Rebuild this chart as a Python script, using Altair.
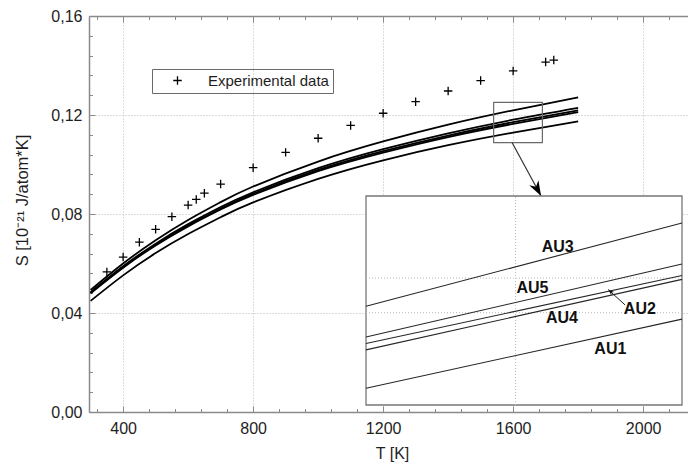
import altair as alt
import pandas as pd

# ---------------- data ----------------
T_model = [300, 400, 500, 600, 700, 800, 1000, 1200, 1400, 1600, 1800]
AU1 = [0.0449, 0.0552, 0.0642, 0.0719, 0.0787, 0.0847, 0.0942, 0.1017, 0.1078, 0.1129, 0.1174]
AU2 = [0.0482, 0.0586, 0.0676, 0.0754, 0.0822, 0.0882, 0.0978, 0.1054, 0.1117, 0.1171, 0.1219]
AU3 = [0.0493, 0.0600, 0.0694, 0.0776, 0.0848, 0.0911, 0.1012, 0.1093, 0.1161, 0.1219, 0.1271]
AU4 = [0.0480, 0.0583, 0.0673, 0.0750, 0.0818, 0.0877, 0.0973, 0.1048, 0.1111, 0.1164, 0.1212]
AU5 = [0.0484, 0.0589, 0.0680, 0.0759, 0.0828, 0.0888, 0.0985, 0.1062, 0.1126, 0.1181, 0.1229]

T_exp = [350, 400, 450, 500, 550, 600, 625, 650, 700, 800, 900, 1000,
         1100, 1200, 1300, 1400, 1500, 1600, 1700, 1725]
S_exp = [0.0566, 0.0626, 0.0686, 0.0738, 0.0789, 0.0836, 0.0859, 0.0884, 0.0921, 0.0987,
         0.1049, 0.1106, 0.1158, 0.1207, 0.1254, 0.1297, 0.1339, 0.1378, 0.1414, 0.1422]

# magnified region (zoom box) and the values read in the inset
zoom_box = {"T0": 1540, "T1": 1690, "S0": 0.1088, "S1": 0.1251}
inset_T = [1540, 1690]
inset_AU1 = [0.1101, 0.1155]
inset_AU2 = [0.1136, 0.1189]
inset_AU3 = [0.1165, 0.1230]
inset_AU4 = [0.1131, 0.1186]
inset_AU5 = [0.1141, 0.1198]
inset_grid_T = [1611]
inset_grid_S = [0.1160, 0.1187]

x_ticks = [400, 800, 1200, 1600, 2000]
x_minor = [t for t in range(320, 2161, 80) if t % 400 != 0]
y_ticks = [0.00, 0.04, 0.08, 0.12, 0.16]
y_grid = [0.04, 0.08, 0.12]
y_minor = [round(0.008 * i, 3) for i in range(1, 20) if i % 5 != 0]

# annotations (in data units)
arrow_main = {"T": 1597, "S": 0.1088, "T2": 1686, "S2": 0.0873}
arrow_au2 = {"T": 1663, "S": 0.1166, "T2": 1655, "S2": 0.1178}
label_names = ["AU3", "AU5", "AU2", "AU4", "AU1"]
label_T = [1631, 1619, 1670, 1633, 1656]
label_S = [0.1211, 0.1179, 0.1163, 0.1156, 0.1132]

# ---------------- layout / style ----------------
W, H = 599, 396
X_DOM = [295, 2138]
Y_DOM = [0.0, 0.16]
INSET_XR = [277, 593]
INSET_YR = [389, 180]
FONT = "Liberation Sans"
TXT = "#1e1e1e"
AXC = "#8a8a8a"
GRIDC = "#b8b8b8"
PLUS = "M-1,0L1,0M0,-1L0,1"
STEALTH = "M0,0L-0.7,-2L0,-1.4L0.7,-2Z"

xs = alt.Scale(domain=X_DOM, nice=False, zero=False)
ys = alt.Scale(domain=Y_DOM, nice=False, zero=False)
ixs = alt.Scale(domain=[zoom_box["T0"], zoom_box["T1"]], range=INSET_XR, nice=False, zero=False)
iys = alt.Scale(domain=[zoom_box["S0"], zoom_box["S1"]], range=INSET_YR, nice=False, zero=False)

names = ["AU1", "AU2", "AU3", "AU4", "AU5"]
curves_df = pd.DataFrame({
    "T": T_model * 5,
    "S": AU1 + AU2 + AU3 + AU4 + AU5,
    "curve": [n for n in names for _ in T_model],
})
inset_df = pd.DataFrame({
    "T": inset_T * 5,
    "S": inset_AU1 + inset_AU2 + inset_AU3 + inset_AU4 + inset_AU5,
    "curve": [n for n in names for _ in inset_T],
})
exp_df = pd.DataFrame({"T": T_exp, "S": S_exp, "series": ["Experimental data"] * len(T_exp)})
box_df = pd.DataFrame([zoom_box])
arrow_df = pd.DataFrame([arrow_main])
arrow2_df = pd.DataFrame([arrow_au2])
labels_df = pd.DataFrame({"name": label_names, "T": label_T, "S": label_S})
igv_df = pd.DataFrame({"T": inset_grid_T, "S0": zoom_box["S0"], "S1": zoom_box["S1"]})
igh_df = pd.DataFrame({"S": inset_grid_S, "T0": zoom_box["T0"], "T1": zoom_box["T1"]})

base = alt.Chart(curves_df)


def axis_layer(xaxis, yaxis):
    return base.mark_point(opacity=0).encode(
        x=alt.X("T:Q", scale=xs, axis=xaxis),
        y=alt.Y("S:Q", scale=ys, axis=yaxis),
    )


tick_common = dict(labels=False, domain=False, grid=False, title=None, tickColor=AXC, tickWidth=1)

grid_layer = axis_layer(
    alt.Axis(orient="bottom", values=x_ticks, grid=True, gridColor=GRIDC, gridDash=[1, 2],
             gridWidth=1, domain=False, ticks=False, labels=False, title=None),
    alt.Axis(orient="left", values=y_grid, grid=True, gridColor=GRIDC, gridDash=[1, 2],
             gridWidth=1, domain=False, ticks=False, labels=False, title=None),
)

label_layer = axis_layer(
    alt.Axis(orient="bottom", values=x_ticks, format="d", ticks=False, grid=False,
             domain=True, domainColor=AXC, domainWidth=1.5,
             labelFontSize=16, labelColor=TXT, labelFont=FONT, labelPadding=8,
             title="T [K]", titleFontSize=16, titleFontWeight="normal", titleColor=TXT,
             titleFont=FONT, titlePadding=9, titleX=303),
    alt.Axis(orient="left", values=y_ticks, ticks=False, grid=False,
             labelExpr="replace(format(datum.value, '.2f'), '.', ',')",
             domain=True, domainColor=AXC, domainWidth=1.5,
             labelFontSize=16, labelColor=TXT, labelFont=FONT, labelPadding=7,
             title="S [10⁻²¹  J/atom*K]", titleFontSize=16.5, titleFontWeight="normal",
             titleColor=TXT, titleFont=FONT, titleX=-67, titleY=184,
             titleAngle=270, titleAlign="center", titleBaseline="middle"),
)

major_ticks = axis_layer(
    alt.Axis(orient="bottom", values=x_ticks, tickSize={"expr": "-6"}, **tick_common),
    alt.Axis(orient="left", values=y_ticks, tickSize={"expr": "-6"}, **tick_common),
)
minor_ticks = axis_layer(
    alt.Axis(orient="bottom", values=x_minor, tickSize={"expr": "-3.5"}, **tick_common),
    alt.Axis(orient="left", values=y_minor, tickSize={"expr": "-3.5"}, **tick_common),
)
top_major = axis_layer(
    alt.Axis(orient="top", values=x_ticks, tickSize={"expr": "-6"}, labels=False, grid=False,
             title=None, tickColor=AXC, tickWidth=1, domain=True, domainColor=AXC, domainWidth=1.5),
    None,
)
top_minor = axis_layer(
    alt.Axis(orient="top", values=x_minor, tickSize={"expr": "-3.5"}, **tick_common),
    None,
)

curves = base.mark_line(color="black", strokeWidth=1.8, interpolate="natural").encode(
    x=alt.X("T:Q", scale=xs, axis=None),
    y=alt.Y("S:Q", scale=ys, axis=None),
    detail="curve:N",
)

pts = alt.Chart(exp_df).mark_point(filled=False, strokeWidth=1.3, size=72, color="black", opacity=1).encode(
    x=alt.X("T:Q", scale=xs, axis=None),
    y=alt.Y("S:Q", scale=ys, axis=None),
    shape=alt.Shape("series:N", scale=alt.Scale(domain=["Experimental data"], range=[PLUS]),
                    legend=alt.Legend(title=None, orient="none", legendX=63, legendY=53,
                                      strokeColor="#6a6a6a", padding=4, symbolOffset=14,
                                      labelOffset=23, labelFontSize=15, labelFont=FONT,
                                      labelColor=TXT, symbolSize=72, symbolStrokeWidth=1.3,
                                      symbolStrokeColor="black", symbolFillColor="transparent")),
)

small_box = alt.Chart(box_df).mark_rect(fillOpacity=0, stroke="#6a6a6a", strokeWidth=1.2).encode(
    x=alt.X("T0:Q", scale=xs, axis=None), x2="T1:Q",
    y=alt.Y("S0:Q", scale=ys, axis=None), y2="S1:Q",
)

arrow_line = alt.Chart(arrow_df).mark_rule(color="#333333", strokeWidth=1.2).encode(
    x=alt.X("T:Q", scale=xs, axis=None), x2="T2:Q",
    y=alt.Y("S:Q", scale=ys, axis=None), y2="S2:Q",
)
arrow_head = alt.Chart(arrow_df).mark_point(shape=STEALTH, size=225, filled=True, color="black",
                                            opacity=1, angle=331).encode(
    x=alt.X("T2:Q", scale=xs, axis=None),
    y=alt.Y("S2:Q", scale=ys, axis=None),
)

main = alt.layer(
    grid_layer, label_layer, major_ticks, minor_ticks, top_major, top_minor,
    curves, pts, small_box, arrow_line, arrow_head,
).resolve_axis(x="independent", y="independent")

# ---------------- inset ----------------
inset_bg = alt.Chart(box_df).mark_rect(fill="white", stroke="#777777", strokeWidth=1.3).encode(
    x=alt.X("T0:Q", scale=ixs, axis=None), x2="T1:Q",
    y=alt.Y("S0:Q", scale=iys, axis=None), y2="S1:Q",
)
inset_gv = alt.Chart(igv_df).mark_rule(color=GRIDC, strokeDash=[1, 2], strokeWidth=1).encode(
    x=alt.X("T:Q", scale=ixs, axis=None),
    y=alt.Y("S0:Q", scale=iys, axis=None), y2="S1:Q",
)
inset_gh = alt.Chart(igh_df).mark_rule(color=GRIDC, strokeDash=[1, 2], strokeWidth=1).encode(
    x=alt.X("T0:Q", scale=ixs, axis=None), x2="T1:Q",
    y=alt.Y("S:Q", scale=iys, axis=None),
)
inset_lines = alt.Chart(inset_df).mark_line(color="#262626", strokeWidth=1.1).encode(
    x=alt.X("T:Q", scale=ixs, axis=None),
    y=alt.Y("S:Q", scale=iys, axis=None),
    detail="curve:N",
)
inset_labels = alt.Chart(labels_df).mark_text(font=FONT, fontSize=16, fontWeight="bold",
                                              color="#111111", align="center",
                                              baseline="middle").encode(
    x=alt.X("T:Q", scale=ixs, axis=None),
    y=alt.Y("S:Q", scale=iys, axis=None),
    text="name:N",
)
au2_line = alt.Chart(arrow2_df).mark_rule(color="#222222", strokeWidth=1).encode(
    x=alt.X("T:Q", scale=ixs, axis=None), x2="T2:Q",
    y=alt.Y("S:Q", scale=iys, axis=None), y2="S2:Q",
)
au2_head = alt.Chart(arrow2_df).mark_point(shape=STEALTH, size=36, filled=True, color="#111111",
                                           opacity=1, angle=132).encode(
    x=alt.X("T2:Q", scale=ixs, axis=None),
    y=alt.Y("S2:Q", scale=iys, axis=None),
)

inset = alt.layer(inset_bg, inset_gv, inset_gh, inset_lines, inset_labels, au2_line, au2_head)

chart = alt.layer(main, inset).resolve_scale(x="independent", y="independent").properties(
    width=W, height=H,
    padding={"left": 81, "top": 8, "right": 0, "bottom": 51},
    autosize=alt.AutoSizeParams(type="none"),
).configure_view(stroke=None).configure(font=FONT)

chart.save("out.html", embed_options={"renderer": "svg", "actions": False})
